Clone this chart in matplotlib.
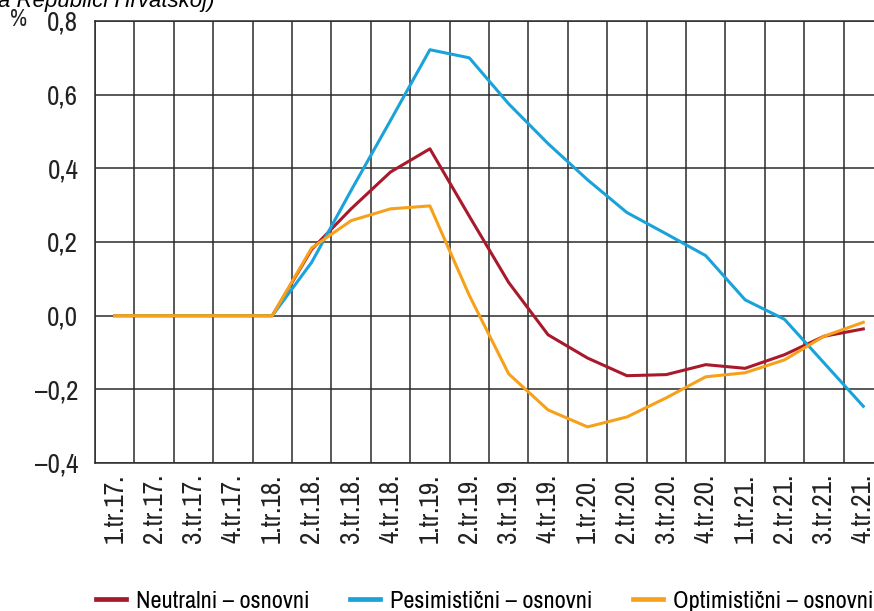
import numpy as np
import matplotlib
matplotlib.use("Agg")
import matplotlib.pyplot as plt

plt.rcParams['font.family'] = ['Archivo Narrow', 'DejaVu Sans']

quarters = ["1.tr.17.", "2.tr.17.", "3.tr.17.", "4.tr.17.",
            "1.tr.18.", "2.tr.18.", "3.tr.18.", "4.tr.18.",
            "1.tr.19.", "2.tr.19.", "3.tr.19.", "4.tr.19.",
            "1.tr.20.", "2.tr.20.", "3.tr.20.", "4.tr.20.",
            "1.tr.21.", "2.tr.21.", "3.tr.21.", "4.tr.21."]

neutralni = [0, 0, 0, 0, 0, 0.18, 0.29, 0.39, 0.453, 0.27,
             0.09, -0.052, -0.115, -0.163, -0.16, -0.133, -0.143, -0.106, -0.056, -0.036]
pesimisticni = [0, 0, 0, 0, 0, 0.145, 0.34, 0.53, 0.722, 0.70,
                0.575, 0.467, 0.369, 0.28, 0.222, 0.163, 0.043, -0.01, -0.128, -0.246]
optimisticni = [0, 0, 0, 0, 0, 0.184, 0.258, 0.29, 0.298, 0.055,
                -0.158, -0.256, -0.302, -0.275, -0.223, -0.166, -0.155, -0.12, -0.056, -0.018]

y_ticks = [-0.4, -0.2, 0.0, 0.2, 0.4, 0.6, 0.8]

red = "#A8192B"
blue = "#1AA3DA"
orange = "#F7A11A"
gridc = "#2b2b2b"


def fmt(v):
	s = ("%.1f" % abs(v)).replace(".", ",")
	return ("\u2013" + s) if v < 0 else s


fig = plt.figure(figsize=(8.74, 6.11), dpi=100)
ax = fig.add_axes([95 / 874, 148 / 611, 788 / 874, 442 / 611])

x = np.arange(len(quarters))
ax.plot(x, neutralni, color=red, lw=2.2, label="Neutralni \u2013 osnovni", zorder=3)
ax.plot(x, pesimisticni, color=blue, lw=2.2, label="Pesimistični \u2013 osnovni", zorder=3)
ax.plot(x, optimisticni, color=orange, lw=2.2, label="Optimistični \u2013 osnovni", zorder=4)

ax.set_xlim(-0.5, len(quarters) - 0.5)
ax.set_ylim(-0.4, 0.8)
ax.set_xticks(x)
ax.set_xticklabels(quarters, rotation=90)
ax.set_xticks(np.arange(-0.5, len(quarters), 1), minor=True)
ax.set_yticks(y_ticks)
ax.set_yticklabels([fmt(v) for v in y_ticks])
ax.tick_params(axis='both', which='both', length=0, labelsize=19.5, colors="#222222")
ax.tick_params(axis='x', pad=8)
ax.tick_params(axis='y', pad=12)
ax.grid(which='minor', axis='x', color=gridc, lw=1.1)
ax.grid(which='major', axis='y', color=gridc, lw=1.1)
for sp in ax.spines.values():
	sp.set_color(gridc)
	sp.set_linewidth(1.1)

fig.text(10 / 874, 1 - 20 / 611, "%", fontsize=17, color="#222222", va='center', ha='left')
fig.text(-2 / 874, 1 - 7 / 611, "a Republici Hrvatskoj)", fontsize=16, style='italic',
	family=['Liberation Sans', 'DejaVu Sans'], va='baseline', ha='left')

leg = fig.legend(loc='center', bbox_to_anchor=(0.5544, 0.016), ncol=3, frameon=False,
	fontsize=17.5, handlelength=1.25, handletextpad=0.4, columnspacing=1.65)
for l in leg.get_lines():
	l.set_linewidth(3.4)

plt.savefig("out.png", dpi=100)
